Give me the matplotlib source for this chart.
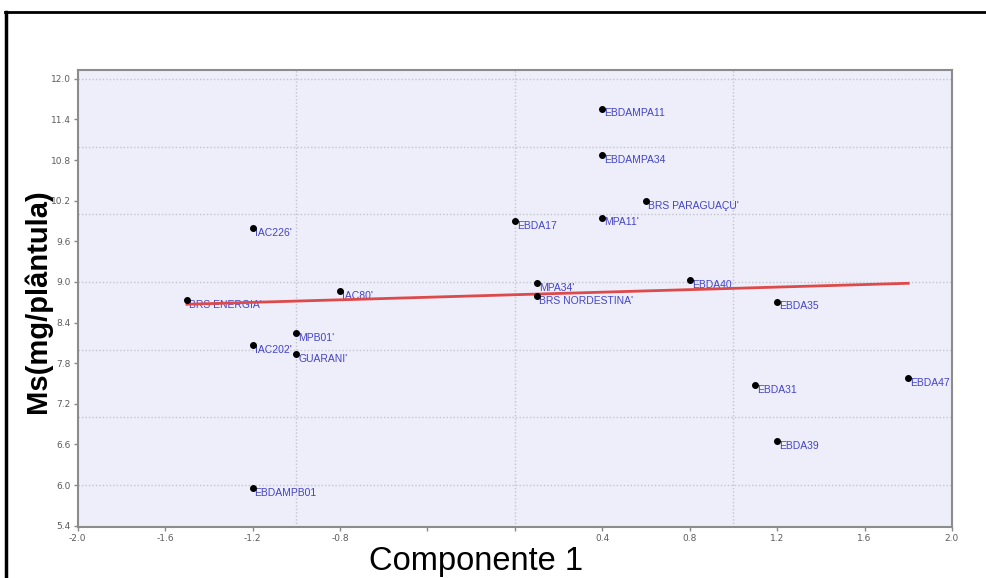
import matplotlib
matplotlib.use('Agg')
import matplotlib.pyplot as plt
from matplotlib.lines import Line2D
import numpy as np

# genotipos e coordenadas (Componente 1, Ms)
genotipos = ["EBDAMPA11", "EBDAMPA34", "BRS PARAGUAÇU'", "MPA11'", "EBDA17",
             "IAC226'", "MPA34'", "BRS NORDESTINA'", "IAC80'", "EBDA40",
             "EBDA35", "BRS ENERGIA'", "MPB01'", "IAC202'", "GUARANI'",
             "EBDA31", "EBDA47", "EBDA39", "EBDAMPB01"]
comp1 = [0.4, 0.4, 0.6, 0.4, 0.0,
         -1.2, 0.1, 0.1, -0.8, 0.8,
         1.2, -1.5, -1.0, -1.2, -1.0,
         1.1, 1.8, 1.2, -1.2]
ms = [11.56, 10.87, 10.19, 9.95, 9.90,
      9.79, 8.98, 8.79, 8.87, 9.03,
      8.71, 8.73, 8.24, 8.07, 7.94,
      7.48, 7.58, 6.65, 5.96]

# linha de tendencia
tend_x = [-1.5, 1.8]
tend_y = [8.67, 8.98]

xticks = [-2.0, -1.6, -1.2, -0.8, -0.4, 0.0, 0.4, 0.8, 1.2, 1.6, 2.0]
xtick_labels = ['-2.0', '-1.6', '-1.2', '-0.8', '', '', '0.4', '0.8', '1.2', '1.6', '2.0']
yticks = [5.4, 6.0, 6.6, 7.2, 7.8, 8.4, 9.0, 9.6, 10.2, 10.8, 11.4, 12.0]

fig = plt.figure(figsize=(9.87, 5.78), dpi=100)
ax = fig.add_axes([0.0787, 0.0882, 0.8858, 0.7907])
ax.set_facecolor('#eeeefb')

# grade pontilhada nos inteiros
for gx in [-1, 0, 1]:
    ax.axvline(gx, color='#c4c4cc', lw=1.0, ls=(0, (1, 1.5)), zorder=1)
for gy in range(6, 13):
    ax.axhline(gy, color='#c4c4cc', lw=1.0, ls=(0, (1, 1.5)), zorder=1)

ax.plot(tend_x, tend_y, color='#dc4a4a', lw=2, zorder=4)
ax.scatter(comp1, ms, s=16, color='black', zorder=5)
for nome, x, y in zip(genotipos, comp1, ms):
    ax.annotate(nome, (x, y), xytext=(1.5, -3.5), textcoords='offset points',
                ha='left', va='center', fontsize=7.5, color='#4444c4', zorder=3,
                family='Liberation Sans')

ax.set_xlim(-2.0, 2.0)
ax.set_ylim(5.38, 12.13)
ax.set_xticks(xticks)
ax.set_xticklabels(xtick_labels)
ax.set_yticks(yticks)
ax.set_yticklabels([f'{v:.1f}' for v in yticks])
for lab, t in zip(ax.get_xticklabels(), xtick_labels):
    if t in ('-0.8', '0.4'):
        lab.set_color('#c8c8c8')
ax.tick_params(axis='both', labelsize=6.5, labelcolor='#5c5c5c', colors='#888888',
               length=3, width=1, pad=2)
for s in ax.spines.values():
    s.set_color('#8c8c8c')
    s.set_linewidth(1.5)

fig.text(0.482, 0.028, 'Componente 1', fontsize=23.5, ha='center', va='center',
         family='Liberation Sans')
fig.text(0.038, 0.479, 'Ms(mg/plântula)', fontsize=21, fontweight='bold',
         rotation=90, ha='center', va='center', family='Liberation Sans')

# moldura externa
fig.add_artist(Line2D([0.005, 1.0], [0.979, 0.979], color='black', lw=2))
fig.add_artist(Line2D([0.006, 0.006], [0.0, 0.979], color='black', lw=2.5))

fig.savefig('out.png', dpi=100)
